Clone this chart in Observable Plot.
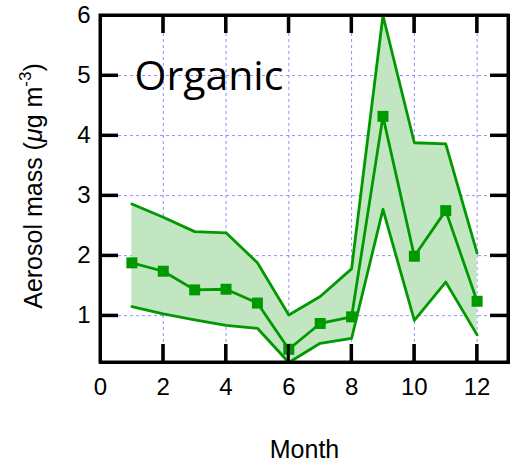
<!DOCTYPE html>
<html><head><meta charset="utf-8">
<script src="https://cdn.jsdelivr.net/npm/d3@7"></script>
<script src="https://cdn.jsdelivr.net/npm/@observablehq/plot@0.6"></script>
<style>body{margin:0;background:#fff}</style>
</head><body><div id="chart"></div>
<script>
const months = [1, 2, 3, 4, 5, 6, 7, 8, 9, 10, 11, 12];
const meanValues  = [1.88, 1.74, 1.43, 1.44, 1.21, 0.44, 0.87, 0.98, 4.32, 1.99, 2.75, 1.24];
const upperValues = [2.86, 2.64, 2.40, 2.38, 1.88, 1.01, 1.32, 1.78, 6.00, 3.88, 3.86, 2.04];
const lowerValues = [1.15, 1.03, 0.93, 0.84, 0.79, 0.18, 0.54, 0.62, 2.77, 0.92, 1.56, 0.68];
const xTicks = [0, 2, 4, 6, 8, 10, 12];
const yTicks = [1, 2, 3, 4, 5, 6];
const gridX = [2, 4, 6, 8, 10, 12];
const gridY = [1, 2, 3, 4, 5];
const title = "Organic";
const xLabel = "Month";

const data = months.map((m, i) => ({month: m, mean: meanValues[i], upper: upperValues[i], lower: lowerValues[i]}));

const W = 510, H = 466, mL = 100, mR = 2, mT = 15, mB = 104;
const plotH = H - mT - mB, plotW = W - mL - mR, tickLen = 18;
const green = "#009900";
const font = "Liberation Sans, Arial, Helvetica, sans-serif";

const chart = Plot.plot({
  width: W, height: H,
  marginLeft: mL, marginRight: mR, marginTop: mT, marginBottom: mB,
  x: {domain: [0, 13]},
  y: {domain: [0.22, 6], clamp: true},
  marks: [
    Plot.gridX(gridX, {stroke: "#8282ff", strokeOpacity: 1, strokeWidth: 0.9, strokeDasharray: "3,3"}),
    Plot.gridY(gridY, {stroke: "#8282ff", strokeOpacity: 1, strokeWidth: 0.9, strokeDasharray: "3,3"}),
    Plot.ruleX(gridX, {x: d => d, stroke: "#000", strokeWidth: 3, insetTop: plotH - tickLen}),
    Plot.ruleX(gridX, {x: d => d, stroke: "#000", strokeWidth: 3, insetBottom: plotH - tickLen}),
    Plot.ruleY(gridY, {y: d => d, stroke: "#000", strokeWidth: 3, insetRight: plotW - tickLen}),
    Plot.ruleY(gridY, {y: d => d, stroke: "#000", strokeWidth: 3, insetLeft: plotW - tickLen}),
    Plot.areaY(data, {x: "month", y1: "lower", y2: "upper", fill: "#c2e5c2"}),
    Plot.line(data, {x: "month", y: "upper", stroke: green, strokeWidth: 2.8}),
    Plot.line(data, {x: "month", y: "lower", stroke: green, strokeWidth: 2.8}),
    Plot.line(data, {x: "month", y: "mean", stroke: green, strokeWidth: 2.8}),
    Plot.dot(data, {x: "month", y: "mean", symbol: "square", r: 6.2, fill: green}),
    Plot.frame({stroke: "#000", strokeWidth: 3}),
    Plot.axisX(xTicks, {tickSize: 0, tickPadding: 15, fontSize: 24, fontFamily: font, label: null, fill: "#000", tickFormat: d => String(d)}),
    Plot.axisY(yTicks, {tickSize: 0, tickPadding: 10, fontSize: 24, fontFamily: font, label: null, fill: "#000", tickFormat: d => String(d)}),
    Plot.text([title], {frameAnchor: "top-left", dx: 34, dy: 74, text: d => d, fontSize: 41,
      fontFamily: "Open Sans, Noto Sans, sans-serif", textAnchor: "start", lineAnchor: "bottom", fill: "#000"}),
    Plot.text([xLabel], {frameAnchor: "bottom", dy: 87, text: d => d, fontSize: 25, fontFamily: font, lineAnchor: "middle", fill: "#000"})
  ]
});
document.getElementById("chart").append(chart);

const svg = d3.select(chart);

// Inward tick marks on all four sides, placed with Plot's own scales
const sx = chart.scale("x"), sy = chart.scale("y");
const [x0, x1] = sx.range, [yB, yT] = sy.range;
const tg = svg.append("g").attr("stroke", "#000").attr("stroke-width", 3).attr("fill", "none");
for (const v of gridX) {
  const px = sx.apply(v);
  tg.append("line").attr("x1", px).attr("x2", px).attr("y1", yB).attr("y2", yB - tickLen);
  tg.append("line").attr("x1", px).attr("x2", px).attr("y1", yT).attr("y2", yT + tickLen);
}
for (const v of gridY) {
  const py = sy.apply(v);
  tg.append("line").attr("x1", x0).attr("x2", x0 + tickLen).attr("y1", py).attr("y2", py);
  tg.append("line").attr("x1", x1).attr("x2", x1 - tickLen).attr("y1", py).attr("y2", py);
}
tg.append("rect").attr("x", x0).attr("y", yT).attr("width", x1 - x0).attr("height", yB - yT);

// Y-axis label with italic mu and superscript
const yl = svg.append("text")
  .attr("transform", `translate(42,186) rotate(-90)`)
  .attr("text-anchor", "middle")
  .attr("font-family", font)
  .attr("font-size", 25)
  .attr("fill", "#000");
yl.append("tspan").text("Aerosol mass (");
yl.append("tspan").attr("font-style", "italic").text("μ");
yl.append("tspan").text("g m");
yl.append("tspan").attr("font-size", 17).attr("dy", -11).text("-3");
yl.append("tspan").attr("dy", 11).text(")");
</script>
</body></html>
